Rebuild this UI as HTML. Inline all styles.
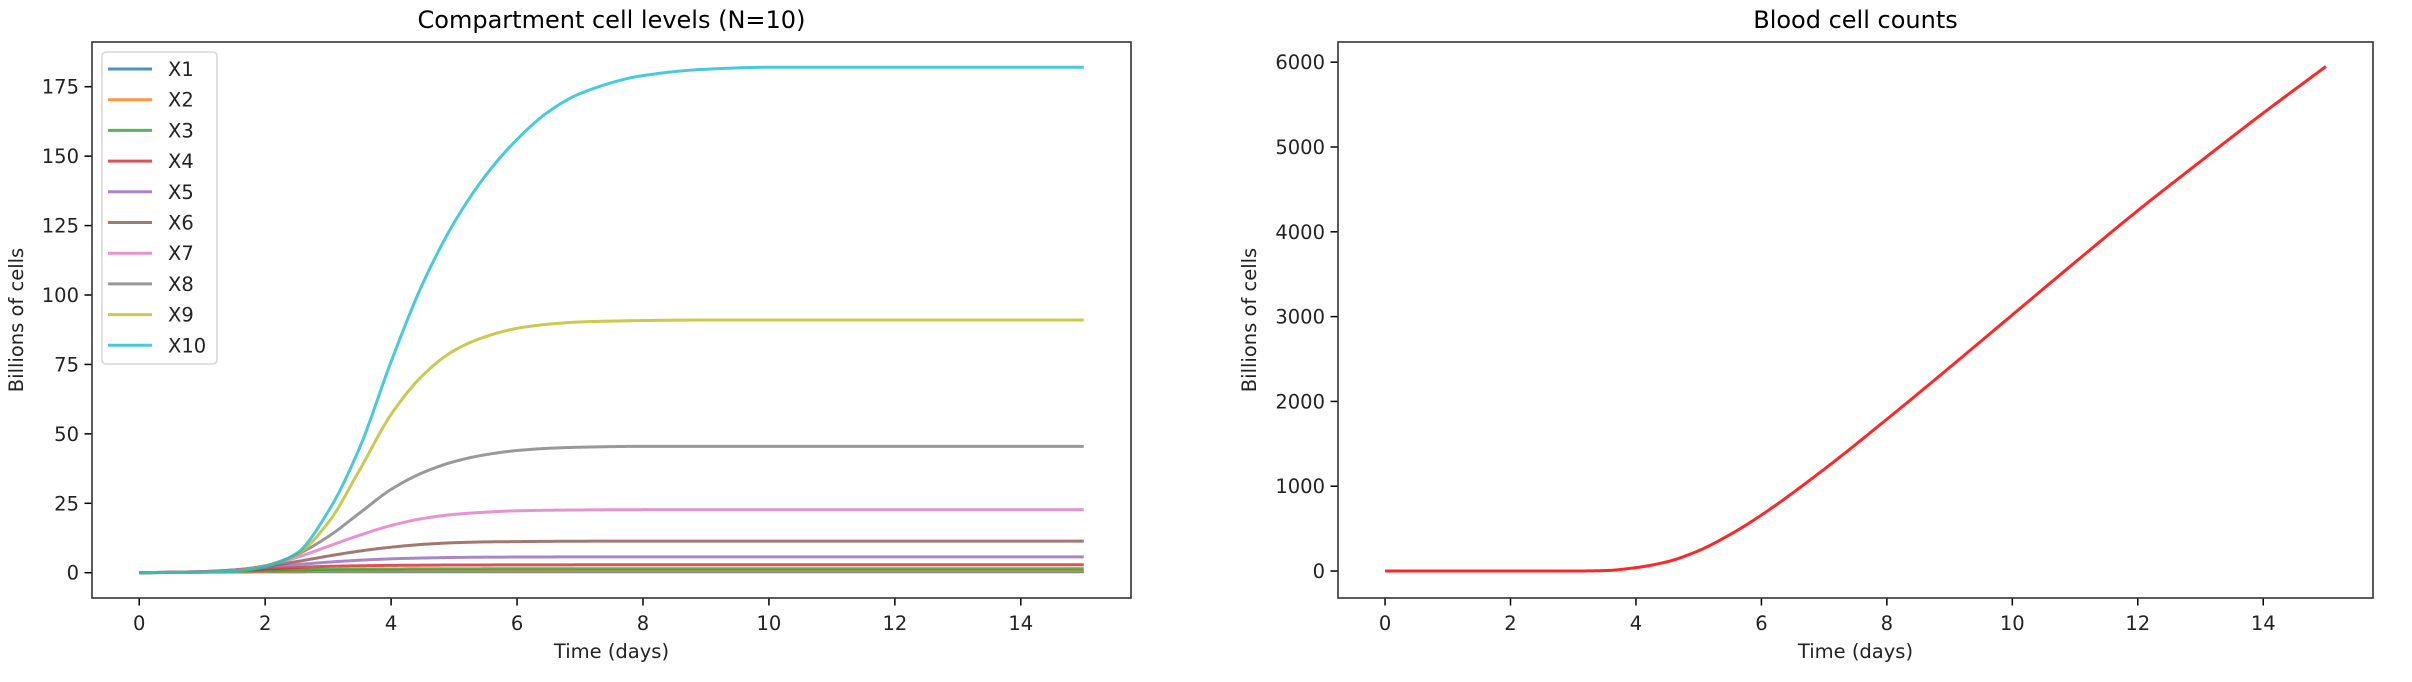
<!DOCTYPE html>
<html><head><meta charset="utf-8"><style>
body{margin:0;background:#fff;}
svg{display:block;font-family:"DejaVu Sans","Liberation Sans",sans-serif;}
</style></head><body>
<svg id="fig" width="2412" height="682" viewBox="0 0 2412 682" xmlns="http://www.w3.org/2000/svg"></svg>
<script>
const T = [0,1,1.5,2,2.5,3,3.5,4,4.5,5,5.5,6,6.5,7,8,9,10,12,15];
const seriesNames = ["X1","X2","X3","X4","X5","X6","X7","X8","X9","X10"];
const X1 = [0,0.2,0.25,0.3,0.32,0.35,0.35,0.36,0.36,0.36,0.36,0.36,0.36,0.36,0.36,0.36,0.36,0.36,0.36];
const X2 = [0,0.3,0.45,0.55,0.6,0.65,0.68,0.7,0.7,0.71,0.71,0.71,0.71,0.71,0.71,0.71,0.71,0.71,0.71];
const X3 = [0,0.35,0.6,0.9,1.05,1.2,1.28,1.35,1.38,1.4,1.41,1.42,1.42,1.42,1.42,1.42,1.42,1.42,1.42];
const X4 = [0,0.4,0.9,1.4,1.9,2.3,2.5,2.65,2.72,2.78,2.8,2.83,2.84,2.85,2.85,2.85,2.85,2.85,2.85];
const X5 = [0,0.4,1,1.9,2.9,3.8,4.5,5,5.3,5.5,5.6,5.65,5.68,5.7,5.7,5.7,5.7,5.7,5.7];
const X6 = [0,0.3,1,2.3,4,6,7.8,9.2,10.2,10.8,11.1,11.2,11.3,11.35,11.4,11.4,11.4,11.4,11.4];
const X7 = [0,0.3,0.9,2.5,5.5,9.5,13.5,17,19.5,21,21.8,22.3,22.5,22.6,22.7,22.7,22.7,22.7,22.7];
const X8 = [0,0.2,0.7,2.5,6.5,13,21.5,30,36,40,42.5,44,44.8,45.2,45.5,45.5,45.5,45.5,45.5];
const X9 = [0,0.2,0.6,2.4,6.5,18,37,57,71,80,85,88,89.5,90.3,90.8,91,91,91,91];
const X10 = [0,0.2,0.5,2.2,7,22,45,76,104,126,143,156,166,172.5,179,181.3,182,182,182];
const T2 = [0,1,2,3,3.5,4,4.5,5,5.5,6,7,8,9,10,11,12,13,14,15];
const blood = [0,0,0,0,5,40,110,240,430,660,1200,1790,2400,3020,3640,4250,4830,5400,5950];
const xTicks = [0,2,4,6,8,10,12,14];
const yTicksL = [0,25,50,75,100,125,150,175];
const yTicksR = [0,1000,2000,3000,4000,5000,6000];
const colors = ["#1f77b4","#ff7f0e","#2ca02c","#d62728","#9467bd","#8c564b","#e377c2","#7f7f7f","#bcbd22","#17becf"];

const NS="http://www.w3.org/2000/svg";
const svg=document.getElementById('fig');
function mk(tag,attrs,parent){const e=document.createElementNS(NS,tag);for(const k in attrs)e.setAttribute(k,attrs[k]);(parent||svg).appendChild(e);return e;}
function scale(d0,d1,r0,r1){return v=>r0+(v-d0)/(d1-d0)*(r1-r0);}
// monotone cubic (Fritsch-Carlson) in data space, sampled
function pathFrom(xs,ys,sx,sy){
  const n=xs.length,h=[],dl=[],m=new Array(n).fill(0);
  for(let i=0;i<n-1;i++){h[i]=xs[i+1]-xs[i];dl[i]=(ys[i+1]-ys[i])/h[i];}
  m[0]=dl[0];m[n-1]=dl[n-2];
  for(let i=1;i<n-1;i++){
    if(dl[i-1]*dl[i]<=0)m[i]=0;
    else{const w1=2*h[i]+h[i-1],w2=h[i]+2*h[i-1];m[i]=(w1+w2)/(w1/dl[i-1]+w2/dl[i]);}
  }
  let d="";
  for(let i=0;i<n-1;i++){
    const steps=20;
    for(let k=(i===0?0:1);k<=steps;k++){
      const t=k/steps,hh=h[i];
      const h00=2*t*t*t-3*t*t+1,h10=t*t*t-2*t*t+t,h01=-2*t*t*t+3*t*t,h11=t*t*t-t*t;
      const y=h00*ys[i]+h10*hh*m[i]+h01*ys[i+1]+h11*hh*m[i+1];
      const x=xs[i]+t*hh;
      d+=(d===""?"M":" L")+sx(x).toFixed(2)+","+sy(y).toFixed(2);
    }
  }
  return d;
}
function axes(cfg){
  const g=mk('g',{});
  
  
  const sx=scale(-0.75,15.75,cfg.x0,cfg.x1);
  const sy=scale(cfg.ymin,cfg.ymax,598,42);
  const title=mk('text',{x:(cfg.x0+cfg.x1)/2,y:28,'text-anchor':'middle','font-size':24,fill:'#000'},g);
  title.textContent=cfg.title;
  
  
  xTicks.forEach(v=>{
    const x=sx(v);
    const t=mk('line',{x1:x,x2:x,y1:598,y2:605.5,stroke:'#000','stroke-width':1.5},g);
    
    
    const l=mk('text',{x:x,y:630,'text-anchor':'middle','font-size':19.5,fill:'#222'},g);
    l.textContent=v;
    
    
  });
  cfg.yTicks.forEach(v=>{
    const y=sy(v);
    const t=mk('line',{x1:cfg.x0-7.5,x2:cfg.x0,y1:y,y2:y,stroke:'#000','stroke-width':1.5},g);
    
    
    const l=mk('text',{x:cfg.x0-13,y:y+7,'text-anchor':'end','font-size':19.5,fill:'#222'},g);
    l.textContent=v;
    
    
  });
  const xl=mk('text',{x:(cfg.x0+cfg.x1)/2,y:658,'text-anchor':'middle','font-size':19.5,fill:'#222'},g);
  xl.textContent='Time (days)';
  
  
  const yl=mk('text',{x:0,y:0,'text-anchor':'middle','font-size':19.5,fill:'#222',transform:`translate(${cfg.ylx},320) rotate(-90)`},g);
  yl.textContent='Billions of cells';
  
  
  return {g,sx,sy};
}
const L=axes({name:'compartment-chart',title:'Compartment cell levels (N=10)',x0:92,x1:1131,ymin:-9.1,ymax:191.1,yTicks:yTicksL,ylx:23});
const allSeries=[X1,X2,X3,X4,X5,X6,X7,X8,X9,X10];
allSeries.forEach((s,i)=>{
  const p=mk('path',{d:pathFrom(T,s,L.sx,L.sy),fill:'none',stroke:colors[i],'stroke-width':3,'stroke-opacity':0.8,'stroke-linejoin':'round'},L.g);
  
  
});
const fL=mk('rect',{x:92,y:42,width:1039,height:556,fill:'none',stroke:'#333','stroke-width':1.6},L.g);


const lg=mk('g',{},L.g);


mk('rect',{x:102,y:52,width:115,height:312,rx:4,fill:'#fff','fill-opacity':0.8,stroke:'#d6d6d6','stroke-width':1.5},lg);
seriesNames.forEach((n,i)=>{
  const y=69+i*30.7;
  const e=mk('g',{},lg);
  
  
  mk('line',{x1:108,x2:152,y1:y,y2:y,stroke:colors[i],'stroke-width':3,'stroke-opacity':0.8},e);
  const t=mk('text',{x:168,y:y+7,'font-size':19.5,fill:'#222'},e);
  t.textContent=n;
});
const R=axes({name:'blood-chart',title:'Blood cell counts',x0:1338,x1:2373,ymin:-318,ymax:6238,yTicks:yTicksR,ylx:1256});
const bp=mk('path',{d:pathFrom(T2,blood,R.sx,R.sy),fill:'none',stroke:'#ff0000','stroke-width':3,'stroke-opacity':0.85,'stroke-linejoin':'round'},R.g);


const fR=mk('rect',{x:1338,y:42,width:1035,height:556,fill:'none',stroke:'#333','stroke-width':1.6},R.g);


</script>
</body></html>
